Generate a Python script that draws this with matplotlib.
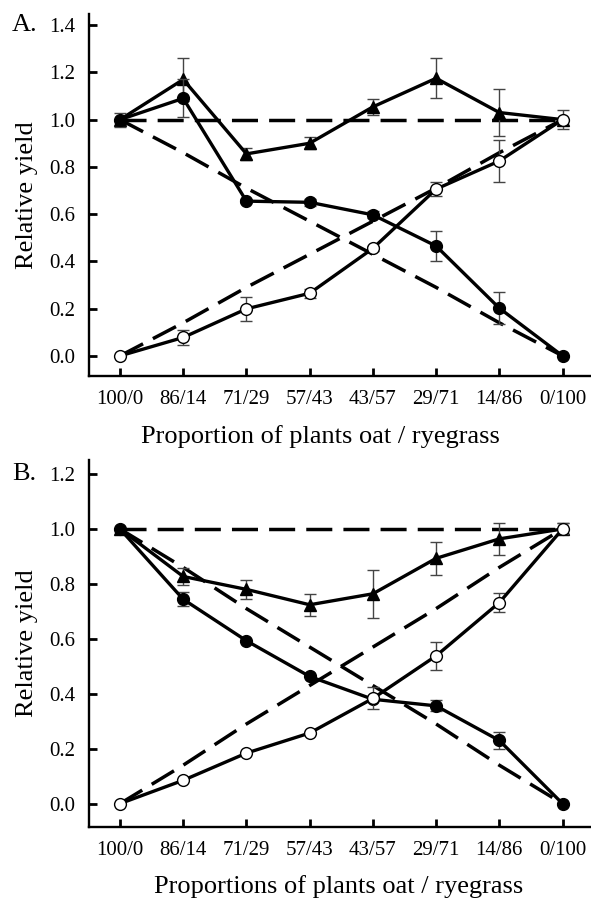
import matplotlib
matplotlib.use('Agg')
import matplotlib.pyplot as plt
import numpy as np

plt.rcParams['font.family'] = ['Liberation Serif', 'DejaVu Serif']
plt.rcParams['mathtext.default'] = 'regular'

# proportions of plants oat / ryegrass
categories = ['100/0', '86/14', '71/29', '57/43', '43/57', '29/71', '14/86', '0/100']
oat_share = [1.00, 0.86, 0.71, 0.57, 0.43, 0.29, 0.14, 0.00]

# panel A
a_oat = [1.00, 1.09, 0.655, 0.65, 0.597, 0.465, 0.202, 0.00]
a_oat_err = [0.03, 0.08, 0.01, 0.015, 0.015, 0.063, 0.068, 0.0]
a_rye = [0.00, 0.078, 0.199, 0.265, 0.455, 0.706, 0.825, 1.00]
a_rye_err = [0.0, 0.03, 0.05, 0.02, 0.01, 0.03, 0.09, 0.04]
a_total = [1.00, 1.17, 0.855, 0.90, 1.054, 1.175, 1.030, 1.00]
a_total_err = [0.0, 0.09, 0.025, 0.025, 0.035, 0.085, 0.10, 0.0]

# panel B
b_oat = [1.00, 0.744, 0.593, 0.463, 0.38, 0.356, 0.230, 0.00]
b_oat_err = [0.0, 0.025, 0.0, 0.0, 0.0, 0.02, 0.03, 0.0]
b_rye = [0.00, 0.085, 0.184, 0.257, 0.383, 0.538, 0.732, 1.00]
b_rye_err = [0.0, 0.0, 0.0, 0.0, 0.04, 0.05, 0.035, 0.02]
b_total = [1.00, 0.827, 0.780, 0.724, 0.764, 0.893, 0.964, 1.00]
b_total_err = [0.0, 0.03, 0.035, 0.04, 0.087, 0.06, 0.058, 0.02]

DASH = (0, (7.5, 3.2))


def draw_panel(ax, oat, oat_err, rye, rye_err, total, total_err, ymax, xlabel):
    x = np.arange(len(categories))
    expected_oat = np.array(oat_share)
    expected_rye = 1 - expected_oat
    expected_total = expected_oat + expected_rye

    # expected (dashed) lines
    for exp in (expected_total, expected_oat, expected_rye):
        ax.plot(x, exp, color='black', linestyle=DASH, linewidth=2.5, zorder=2)

    err_kw = dict(ecolor='#444444', elinewidth=1.0, capsize=4, capthick=1.0)
    ax.errorbar(x, total, yerr=total_err, color='black', linewidth=2.4,
                marker='^', markersize=8, markerfacecolor='black',
                zorder=3, **err_kw)
    ax.errorbar(x, oat, yerr=oat_err, color='black', linewidth=2.4,
                marker='o', markersize=8.5, markerfacecolor='black',
                zorder=4, **err_kw)
    ax.errorbar(x, rye, yerr=rye_err, color='black', linewidth=2.4,
                marker='o', markersize=8.5, markerfacecolor='white',
                markeredgewidth=1.0, zorder=5, **err_kw)

    ax.set_xlim(-0.49, 7.45)
    ax.set_ylim(-0.085, ymax)
    ax.set_xticks(x)
    ax.set_xticklabels(categories)
    ticks = np.arange(0, ymax - 0.01, 0.2)
    ax.set_yticks(ticks)
    ax.set_yticklabels([f'{t:.1f}' for t in ticks])

    for side in ('top', 'right'):
        ax.spines[side].set_visible(False)
    for side in ('left', 'bottom'):
        ax.spines[side].set_linewidth(1.7)
    ax.tick_params(axis='both', direction='in', length=6, width=2.0,
                   labelsize=15)
    ax.tick_params(axis='x', pad=10)
    ax.tick_params(axis='y', pad=10)

    ax.set_ylabel('Relative yield', fontsize=19, va='center')
    ax.yaxis.set_label_coords(-0.1235, 0.5)
    ax.set_xlabel(xlabel, fontsize=19, va='center')


fig = plt.figure(figsize=(5.91, 8.99), dpi=100)
ax_a = fig.add_axes([0.1506, 0.5818, 0.8494, 0.4026])
ax_b = fig.add_axes([0.1506, 0.0801, 0.8494, 0.4082])

draw_panel(ax_a, a_oat, a_oat_err, a_rye, a_rye_err, a_total, a_total_err,
           1.447, 'Proportion of plants oat / ryegrass')
ax_a.xaxis.set_label_coords(0.462, -0.166)

draw_panel(ax_b, b_oat, b_oat_err, b_rye, b_rye_err, b_total, b_total_err,
           1.251, 'Proportions of plants oat / ryegrass')
ax_b.xaxis.set_label_coords(0.497, -0.1635)

fig.text(12 / 591, 1 - 25 / 899, 'A.', fontsize=19, va='center', ha='left')
fig.text(12 / 591, 1 - 474 / 899, 'B.', fontsize=19, va='center', ha='left')

fig.savefig('out.png', dpi=100)
